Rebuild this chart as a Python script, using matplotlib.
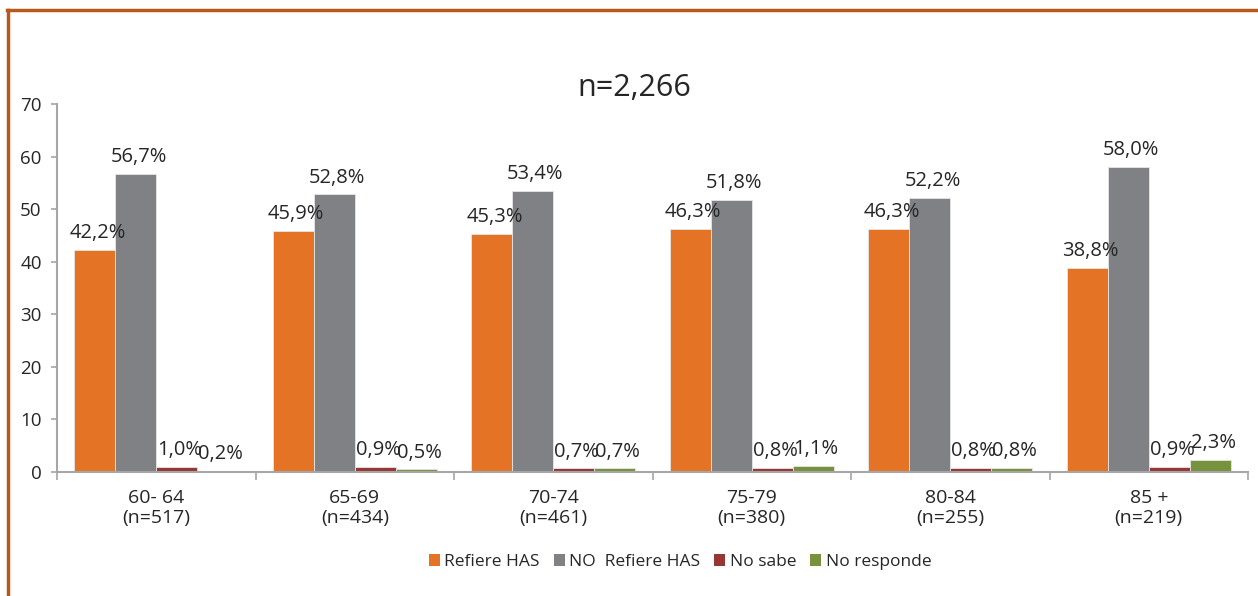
import numpy as np
import matplotlib.pyplot as plt
from matplotlib.lines import Line2D
from matplotlib.patches import Patch

plt.rcParams['font.family'] = ['Open Sans', 'DejaVu Sans']

grupos = ['60- 64\n(n=517)', '65-69\n(n=434)', '70-74\n(n=461)',
          '75-79\n(n=380)', '80-84\n(n=255)', '85 +\n(n=219)']
series = ['Refiere HAS', 'NO  Refiere HAS', 'No sabe', 'No responde']
refiere = [42.2, 45.9, 45.3, 46.3, 46.3, 38.8]
no_refiere = [56.7, 52.8, 53.4, 51.8, 52.2, 58.0]
no_sabe = [1.0, 0.9, 0.7, 0.8, 0.8, 0.9]
no_responde = [0.2, 0.5, 0.7, 1.1, 0.8, 2.3]
colores = ['#E57325', '#808185', '#963735', '#76923C']

W, H = 1258, 596
fig = plt.figure(figsize=(W / 100, H / 100), dpi=100)
ax = fig.add_axes([57 / W, 1 - 472 / H, (1248 - 57) / W, (472 - 104) / H])

x = np.arange(len(grupos))
w = 0.207
valores = [refiere, no_refiere, no_sabe, no_responde]
for i, (vals, col) in enumerate(zip(valores, colores)):
    pos = x + (i - 1.5) * w
    ax.bar(pos, vals, width=w, color=col, edgecolor='#e6e6e6', linewidth=0.6)
    for px, v in zip(pos, vals):
        ax.annotate(f'{v:.1f}%'.replace('.', ','), (px, v), xytext=(2, 8.5),
                    textcoords='offset points', ha='center', va='baseline',
                    fontsize=14.5, color='#262626')

ax.set_xlim(-0.5, len(grupos) - 0.5)
ax.set_ylim(0, 70)
ax.set_yticks(range(0, 71, 10))
ax.set_xticks(np.arange(-0.5, len(grupos)), [''] * (len(grupos) + 1))
ax.set_xticks(x, grupos, minor=True)
ax.tick_params(axis='x', which='major', length=6, color='#a6a6a6', width=1.2)
ax.tick_params(axis='x', which='minor', length=0, pad=12, labelsize=14,
               labelcolor='#262626')
ax.tick_params(axis='y', length=4, color='#a6a6a6', width=1.2, pad=7,
               labelsize=13.5, labelcolor='#262626')
for s in ['top', 'right']:
    ax.spines[s].set_visible(False)
for s in ['left', 'bottom']:
    ax.spines[s].set_color('#a6a6a6')
    ax.spines[s].set_linewidth(1.5)

fig.text(634 / W, 1 - 88 / H, 'n=2,266', ha='center', va='center',
         fontsize=22, color='#262626')

handles = [Patch(facecolor=c, edgecolor='none') for c in colores]
fig.legend(handles, series, loc='center', bbox_to_anchor=(680 / W, 1 - 562 / H),
           ncol=4, frameon=False, fontsize=12.5, handlelength=0.65,
           handleheight=0.65, handletextpad=0.25, columnspacing=0.8,
           labelcolor='#262626')

# marco naranja (superior e izquierdo)
fig.add_artist(Line2D([7 / W, 1], [1 - 10 / H, 1 - 10 / H], color='#B55A1B',
                      lw=2.5, transform=fig.transFigure))
fig.add_artist(Line2D([8 / W, 8 / W], [0, 1 - 10 / H], color='#B55A1B',
                      lw=2.5, transform=fig.transFigure))

fig.savefig('out.png', dpi=100)
